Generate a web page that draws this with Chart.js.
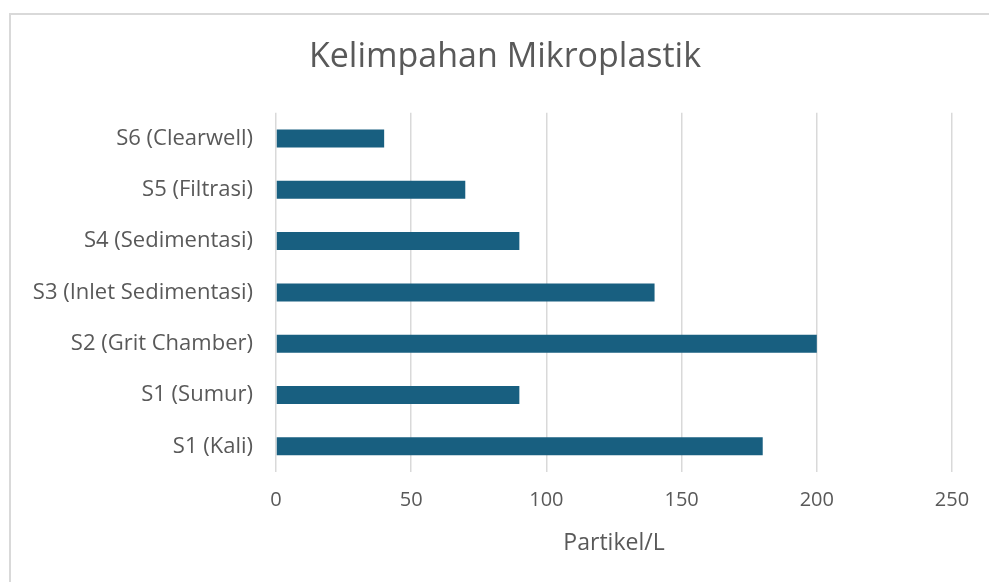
<!DOCTYPE html>
<html>
<head>
<meta charset="utf-8">
<script src="https://cdn.jsdelivr.net/npm/chart.js@4/dist/chart.umd.min.js"></script>
<style>
  html, body { margin: 0; padding: 0; background: #fff; overflow: hidden; }
  #frame { position: absolute; left: 9px; top: 13px; width: 1000px; height: 600px; border: 2px solid #d9d9d9; }
  #wrap { position: absolute; left: 0; top: 0; width: 989px; height: 582px; }
</style>
</head>
<body>
<div id="frame"></div>
<div id="wrap"><canvas id="theChart" width="989" height="582"></canvas></div>
<script>
// data, top to bottom
var stations = ['S6 (Clearwell)', 'S5 (Filtrasi)', 'S4 (Sedimentasi)', 'S3 (Inlet Sedimentasi)', 'S2 (Grit Chamber)', 'S1 (Sumur)', 'S1 (Kali)'];
var partikel = [40, 70, 90, 140, 200, 90, 180];
var xTicks = [0, 50, 100, 150, 200, 250];

var chartTitle = 'Kelimpahan Mikroplastik';
var xTitle = 'Partikel/L';

var textColor = '#595959';
var fontName = "'Open Sans', sans-serif";

// title is centred on the outer frame, not on the plot
var titleShift = {
  id: 'titleShift',
  afterLayout: function (chart) {
    if (chart.titleBlock) {
      chart.titleBlock.left = 20;
      chart.titleBlock.right = 990;
    }
  }
};

var ctx = document.getElementById('theChart').getContext('2d');
var myChart = new Chart(ctx, {
  type: 'bar',
  data: {
    labels: stations,
    datasets: [{
      label: xTitle,
      data: partikel,
      backgroundColor: '#185f80',
      borderWidth: 0,
      barPercentage: 0.35,
      categoryPercentage: 1
    }]
  },
  options: {
    indexAxis: 'y',
    responsive: false,
    animation: false,
    layout: { padding: { left: 20, right: 37, top: 0, bottom: 0 } },
    plugins: {
      legend: { display: false },
      tooltip: { enabled: false },
      title: {
        display: true,
        text: chartTitle,
        color: textColor,
        font: { family: fontName, size: 34, weight: 'normal' },
        padding: { top: 37, bottom: 35 }
      }
    },
    scales: {
      x: {
        min: 0,
        max: 250,
        afterBuildTicks: function (scale) {
          scale.ticks = xTicks.map(function (v) { return { value: v }; });
        },
        afterFit: function (scale) { scale.height = 110; },
        grid: { color: '#d9d9d9', lineWidth: 1.5, drawTicks: false },
        border: { display: false },
        ticks: { color: textColor, font: { family: fontName, size: 20 }, padding: 16 },
        title: {
          display: true,
          text: xTitle,
          color: textColor,
          font: { family: fontName, size: 23 },
          padding: { top: 0, bottom: 25 }
        }
      },
      y: {
        afterFit: function (scale) { scale.width = 256; },
        grid: { display: false, drawTicks: false },
        border: { display: false },
        ticks: { color: textColor, font: { family: fontName, size: 22 }, padding: 23 }
      }
    }
  },
  plugins: [titleShift]
});
</script>
</body>
</html>
